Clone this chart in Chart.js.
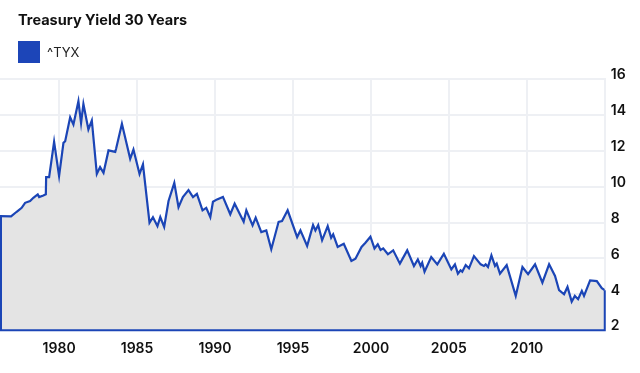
<!DOCTYPE html>
<html>
<head>
<meta charset="utf-8">
<script src="https://cdn.jsdelivr.net/npm/chart.js@4.4.0/dist/chart.umd.min.js"></script>
<style>
  html, body { margin: 0; padding: 0; background: #fff; }
  body { width: 640px; height: 373px; position: relative; overflow: hidden; font-family: Inter, "Noto Sans", sans-serif; }
  #title { position: absolute; left: 18px; top: 11px; font-size: 14.5px; font-weight: 700; line-height: 18px; color: #111; }
  #swatch { position: absolute; left: 18px; top: 41px; width: 22px; height: 22px; background: #1c45b8; }
  #legendText { position: absolute; left: 47px; top: 44px; font-size: 13px; line-height: 16px; color: #222; }
  #wrap { position: absolute; left: 0; top: 0; width: 640px; height: 373px; }
</style>
</head>
<body>
<div id="wrap"><canvas id="yieldChart"></canvas></div>
<div id="title">Treasury Yield 30 Years</div>
<div id="swatch"></div>
<div id="legendText">^TYX</div>
<script>
// decimal years
const dates = [
  1976.21, 1976.92, 1977.28, 1977.60, 1977.82, 1978.14, 1978.35, 1978.63, 1978.72, 1978.99,
  1979.15, 1979.17, 1979.36, 1979.68, 1980.00, 1980.28, 1980.39, 1980.71, 1980.92, 1981.24,
  1981.41, 1981.56, 1981.88, 1982.10, 1982.42, 1982.63, 1982.85, 1983.17, 1983.60, 1983.66,
  1984.03, 1984.56, 1984.77, 1985.16, 1985.38, 1985.80, 1986.02, 1986.31, 1986.49, 1986.74,
  1987.02, 1987.39, 1987.66, 1987.94, 1988.30, 1988.59, 1988.84, 1989.20, 1989.44, 1989.70,
  1989.87, 1990.13, 1990.51, 1990.98, 1991.26, 1991.84, 1992.01, 1992.41, 1992.61, 1992.97,
  1993.29, 1993.61, 1994.08, 1994.30, 1994.66, 1995.27, 1995.48, 1995.91, 1996.12, 1996.29,
  1996.44, 1996.62, 1996.87, 1997.23, 1997.45, 1997.58, 1997.87, 1998.26, 1998.75, 1999.01,
  1999.40, 1999.65, 1999.97, 2000.23, 2000.44, 2000.62, 2000.79, 2001.09, 2001.43, 2001.86,
  2002.33, 2002.76, 2003.01, 2003.19, 2003.29, 2003.44, 2003.87, 2004.26, 2004.68, 2005.16,
  2005.39, 2005.58, 2005.75, 2005.86, 2006.08, 2006.29, 2006.61, 2007.04, 2007.25, 2007.36,
  2007.51, 2007.73, 2007.96, 2008.07, 2008.28, 2008.71, 2009.29, 2009.72, 2010.08, 2010.53,
  2011.00, 2011.43, 2011.81, 2012.07, 2012.39, 2012.61, 2012.88, 2013.08, 2013.29, 2013.53,
  2013.67, 2014.06, 2014.49, 2014.81, 2015.00
];

// 30 year yield (%)
const yields = [
  8.36, 8.34, 8.60, 8.82, 9.10, 9.20, 9.38, 9.57, 9.42, 9.51,
  9.57, 10.53, 10.53, 12.50, 10.59, 12.44, 12.53, 13.87, 13.46, 14.76,
  13.55, 14.61, 13.19, 13.69, 10.71, 11.09, 10.77, 12.02, 11.94, 12.13,
  13.50, 11.55, 12.07, 10.71, 11.24, 7.99, 8.30, 7.80, 8.30, 7.75,
  9.20, 10.21, 8.86, 9.42, 9.81, 9.42, 9.60, 8.68, 8.82, 8.30,
  9.16, 9.29, 9.43, 8.46, 9.05, 8.04, 8.68, 7.84, 8.27, 7.47,
  7.56, 6.51, 8.04, 8.08, 8.68, 7.19, 7.56, 6.69, 7.34, 7.86,
  7.56, 7.86, 7.01, 7.80, 7.15, 7.34, 6.64, 6.82, 5.86, 5.98,
  6.64, 6.87, 7.21, 6.56, 6.79, 6.47, 6.56, 6.23, 6.45, 5.71,
  6.45, 5.58, 5.95, 5.58, 5.76, 5.26, 6.08, 5.67, 6.26, 5.39,
  5.67, 5.15, 5.34, 5.26, 5.63, 5.45, 6.13, 5.67, 5.58, 5.67,
  5.52, 6.17, 5.58, 5.71, 5.15, 5.63, 3.91, 5.52, 5.12, 5.67,
  4.65, 5.67, 5.02, 4.23, 4.00, 4.41, 3.59, 3.91, 3.73, 4.19,
  3.91, 4.78, 4.74, 4.34, 4.23
];

const yearTicks = [1980, 1985, 1990, 1995, 2000, 2005, 2010];
const yieldTicks = [2, 4, 6, 8, 10, 12, 14, 16];

const lineColor = '#1b45b6';
const gridColor = '#eef0f4';

// outline the filled area down to the bottom of the plot
const areaOutline = {
  id: 'areaOutline',
  afterDatasetsDraw(chart) {
    const pts = chart.getDatasetMeta(0).data;
    if (!pts.length) return;
    const first = pts[0], last = pts[pts.length - 1];
    const bottom = chart.scales.y.getPixelForValue(yieldTicks[0]);
    const ctx = chart.ctx;
    ctx.save();
    ctx.strokeStyle = lineColor;
    ctx.lineWidth = 2;
    ctx.beginPath();
    ctx.moveTo(first.x + 1, first.y);
    ctx.lineTo(first.x + 1, bottom);
    ctx.lineTo(last.x, bottom);
    ctx.lineTo(last.x, last.y);
    ctx.stroke();
    ctx.restore();
  }
};

const tickFont = { family: 'Inter', size: 14, weight: '600' };

new Chart(document.getElementById('yieldChart'), {
  type: 'line',
  data: {
    datasets: [{
      label: '^TYX',
      data: dates.map((d, i) => ({ x: d, y: yields[i] })),
      borderColor: lineColor,
      backgroundColor: '#e4e4e4',
      borderWidth: 2.2,
      pointRadius: 0,
      tension: 0,
      fill: 'start'
    }]
  },
  options: {
    responsive: true,
    maintainAspectRatio: false,
    animation: false,
    layout: { padding: { top: 79, bottom: 6, left: 0, right: 8 } },
    plugins: {
      legend: { display: false },
      tooltip: { enabled: false }
    },
    scales: {
      x: {
        type: 'linear',
        min: dates[0],
        max: dates[dates.length - 1],
        afterBuildTicks: scale => { scale.ticks = yearTicks.map(v => ({ value: v })); },
        grid: { color: gridColor, lineWidth: 2, drawTicks: false },
        border: { display: false },
        ticks: {
          color: '#111',
          font: tickFont,
          padding: 10,
          maxRotation: 0,
          callback: v => String(v)
        }
      },
      y: {
        position: 'right',
        min: yieldTicks[0],
        max: yieldTicks[yieldTicks.length - 1],
        afterBuildTicks: scale => { scale.ticks = yieldTicks.map(v => ({ value: v })); },
        grid: { color: gridColor, lineWidth: 2, drawTicks: false },
        border: { display: true, color: gridColor, width: 2 },
        ticks: {
          color: '#111',
          font: tickFont,
          padding: 6,
          labelOffset: -4
        }
      }
    }
  },
  plugins: [areaOutline]
});
</script>
</body>
</html>
